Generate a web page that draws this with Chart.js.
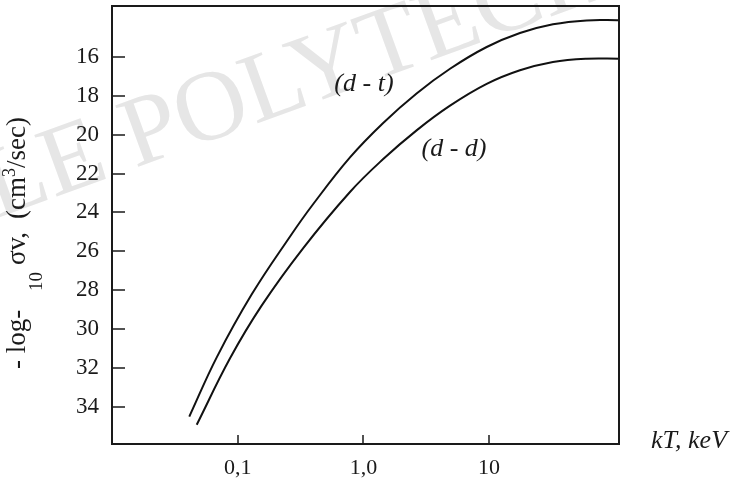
<!DOCTYPE html>
<html>
<head>
<meta charset="utf-8">
<script src="https://cdn.jsdelivr.net/npm/chart.js@4.4.1/dist/chart.umd.min.js"></script>
<style>
  html, body { margin: 0; padding: 0; background: #fff; }
  #wrap { width: 732px; height: 481px; }
</style>
</head>
<body>
<div id="wrap"><canvas id="chart" width="732" height="481"></canvas></div>
<script>
// -log10 <sigma v> (cm3/sec) against kT (keV)
const dtKT   = [0.0412, 0.0681, 0.129, 0.261, 0.399, 0.782, 1.43, 2.65, 4.89, 9.57, 17.6, 32.2, 59.7, 108];
const dtRate = [34.51, 31.46, 28.23, 25.24, 23.57, 21.17, 19.41, 17.88, 16.61, 15.49, 14.77, 14.32, 14.12, 14.11];
const ddKT   = [0.0472, 0.0869, 0.155, 0.331, 0.782, 1.43, 2.65, 4.89, 9.57, 17.6, 32.2, 59.7, 108];
const ddRate = [34.93, 31.51, 28.80, 25.85, 22.95, 21.27, 19.78, 18.51, 17.39, 16.69, 16.26, 16.09, 16.09];

const xTicks = [0.1, 1, 10];
const xTickLabels = ["0,1", "1,0", "10"];
const yTicks = [16, 18, 20, 22, 24, 26, 28, 30, 32, 34];

// curve labels, placed in data coordinates
const curveLabels = [
    { text: "(d - t)", kT: 1.01, rate: 17.39 },
    { text: "(d - d)", kT: 5.26, rate: 20.73 },
];

const SERIF = '"Liberation Serif", "Times New Roman", serif';

const toPoints = (xs, ys) => xs.map((x, i) => ({ x: x, y: ys[i] }));

// faint watermark behind the plot
const watermark = {
    id: "watermark",
    beforeDraw(chart) {
        const ctx = chart.ctx;
        ctx.save();
        ctx.font = "100px " + SERIF;
        ctx.fillStyle = "#e6e6e6";
        ctx.translate(135, 168);
        ctx.rotate(-20 * Math.PI / 180);
        const pre = ctx.measureText("ECOLE ").width;
        ctx.fillText("ECOLE POLYTECHNIQUE", -pre, 0);
        ctx.restore();
    }
};

// box, inward ticks, axis titles and curve labels
const frame = {
    id: "frame",
    afterDraw(chart) {
        const { ctx, chartArea: a, scales } = chart;
        ctx.save();
        ctx.strokeStyle = "#1a1a1a";
        ctx.lineWidth = 2;
        ctx.strokeRect(a.left, a.top, a.right - a.left, a.bottom - a.top);

        ctx.lineWidth = 1.5;
        ctx.beginPath();
        yTicks.forEach(v => {
            const y = Math.round(scales.y.getPixelForValue(v));
            ctx.moveTo(a.left, y);
            ctx.lineTo(a.left + 13, y);
        });
        xTicks.forEach(v => {
            const x = Math.round(scales.x.getPixelForValue(v));
            ctx.moveTo(x, a.bottom);
            ctx.lineTo(x, a.bottom - 9);
        });
        ctx.stroke();

        ctx.fillStyle = "#1a1a1a";

        // x title
        ctx.font = "italic 26px " + SERIF;
        ctx.textBaseline = "alphabetic";
        ctx.textAlign = "left";
        ctx.fillText("kT, keV", 651, 448);

        // curve labels
        ctx.textAlign = "center";
        ctx.textBaseline = "middle";
        curveLabels.forEach(l => {
            ctx.fillText(l.text, scales.x.getPixelForValue(l.kT), scales.y.getPixelForValue(l.rate));
        });

        // y title with subscript and superscript, read bottom to top
        // at: distance up from the bottom start, null = follow previous part
        const parts = [
            { t: "- log-", size: 27, dy: 0, at: 0 },
            { t: "10", size: 19, dy: 17, at: 78 },
            { t: "\u03c3v,", size: 27, dy: 0, at: 104 },
            { t: "(cm", size: 27, dy: 0, at: 150 },
            { t: "3", size: 18, dy: -10, at: null },
            { t: "/sec)", size: 27, dy: 0, at: null },
        ];
        ctx.textAlign = "left";
        ctx.textBaseline = "alphabetic";
        ctx.translate(25, 369);
        ctx.rotate(-Math.PI / 2);
        let x = 0;
        parts.forEach(p => {
            ctx.font = p.size + "px " + SERIF;
            if (p.at !== null) x = p.at;
            ctx.fillText(p.t, x, p.dy);
            x += ctx.measureText(p.t).width;
        });
        ctx.restore();
    }
};

const ctx = document.getElementById("chart").getContext("2d");
new Chart(ctx, {
    type: "line",
    data: {
        datasets: [
            {
                label: "(d - t)",
                data: toPoints(dtKT, dtRate),
                borderColor: "#111",
                borderWidth: 2,
                pointRadius: 0,
                tension: 0.4,
                fill: false,
            },
            {
                label: "(d - d)",
                data: toPoints(ddKT, ddRate),
                borderColor: "#111",
                borderWidth: 2,
                pointRadius: 0,
                tension: 0.4,
                fill: false,
            },
        ],
    },
    options: {
        responsive: false,
        animation: false,
        layout: { padding: { top: 6, right: 113, left: 0, bottom: 0 } },
        plugins: {
            legend: { display: false },
            tooltip: { enabled: false },
        },
        scales: {
            x: {
                type: "logarithmic",
                min: 0.01,
                max: 108,
                grid: { display: false, drawTicks: false },
                border: { display: false },
                afterBuildTicks: s => { s.ticks = xTicks.map(v => ({ value: v })); },
                afterFit: s => { s.height = 37; s.paddingLeft = 0; s.paddingRight = 0; },
                ticks: {
                    autoSkip: false,
                    maxRotation: 0,
                    padding: 11,
                    color: "#1a1a1a",
                    font: { family: SERIF, size: 22 },
                    callback: (v, i) => xTickLabels[i],
                },
            },
            y: {
                type: "linear",
                reverse: true,
                min: 13.38,
                max: 35.92,
                grid: { display: false, drawTicks: false },
                border: { display: false },
                afterBuildTicks: s => { s.ticks = yTicks.map(v => ({ value: v })); },
                afterFit: s => { s.width = 112; s.paddingTop = 0; s.paddingBottom = 0; },
                ticks: {
                    padding: 13,
                    color: "#1a1a1a",
                    font: { family: SERIF, size: 23 },
                },
            },
        },
    },
    plugins: [watermark, frame],
});
</script>
</body>
</html>
